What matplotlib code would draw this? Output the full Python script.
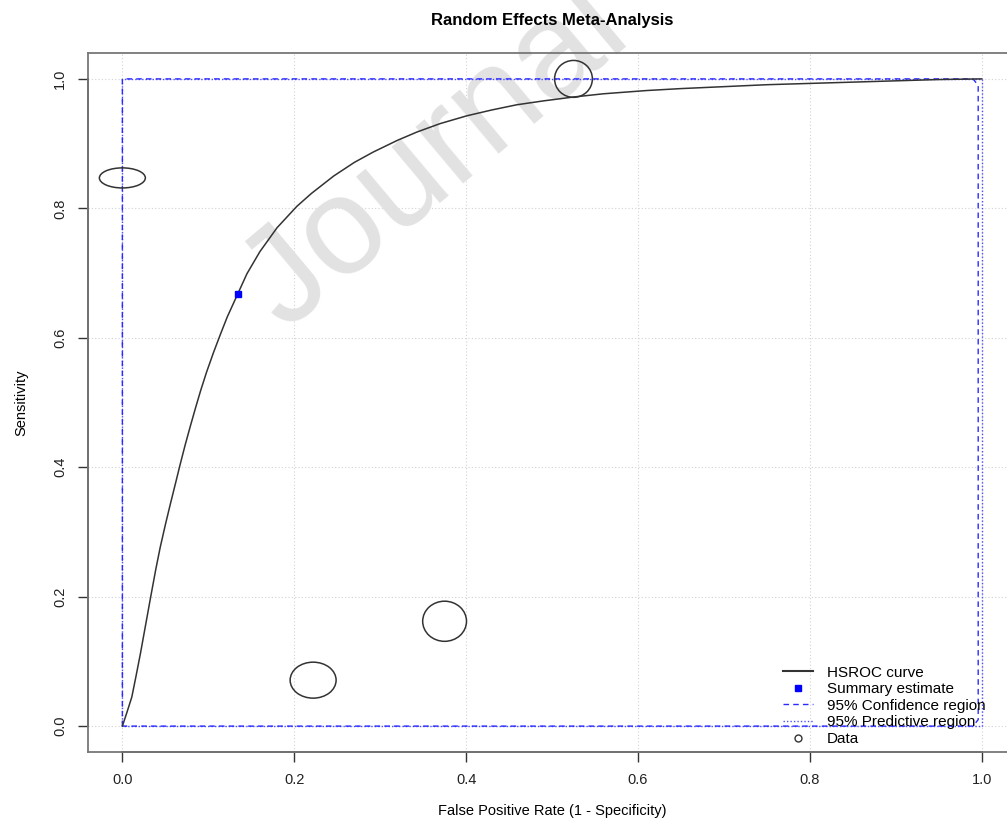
import numpy as np
import matplotlib.pyplot as plt
from matplotlib.patches import Ellipse
from matplotlib.lines import Line2D

plt.rcParams['font.family'] = ['Liberation Sans', 'DejaVu Sans']

# HSROC curve
curve_fpr = [0.0, 0.005, 0.011, 0.016, 0.021, 0.027, 0.033, 0.039, 0.044, 0.050,
             0.056, 0.062, 0.067, 0.073, 0.079, 0.085, 0.091, 0.098, 0.106, 0.114,
             0.122, 0.134, 0.145, 0.160, 0.180, 0.203, 0.220, 0.246, 0.270, 0.292,
             0.320, 0.343, 0.370, 0.401, 0.430, 0.459, 0.490, 0.525, 0.560, 0.610,
             0.650, 0.700, 0.750, 0.800, 0.850, 0.900, 0.950, 1.0]
curve_sens = [0.0, 0.020, 0.045, 0.078, 0.112, 0.156, 0.200, 0.243, 0.276, 0.311,
              0.344, 0.376, 0.403, 0.434, 0.463, 0.491, 0.518, 0.547, 0.577, 0.605,
              0.632, 0.667, 0.699, 0.733, 0.770, 0.803, 0.823, 0.850, 0.871, 0.887,
              0.905, 0.918, 0.931, 0.943, 0.952, 0.960, 0.966, 0.972, 0.977, 0.982,
              0.985, 0.988, 0.991, 0.993, 0.995, 0.997, 0.999, 1.0]

# summary estimate
summary_fpr = 0.134
summary_sens = 0.667

# study data (ellipses)
data_fpr = [0.0, 0.525, 0.222, 0.375]
data_sens = [0.847, 1.0, 0.071, 0.162]
data_w = [0.0535, 0.044, 0.0535, 0.051]
data_h = [0.031, 0.057, 0.0556, 0.062]

# regions
conf_fpr = [0.0, 0.0, 0.990, 0.996, 0.996, 0.990, 0.0]
conf_sens = [0.0, 1.0, 1.0, 0.990, 0.010, 0.0, 0.0]
pred_fpr = [0.0, 0.0, 1.0, 1.0, 0.0]
pred_sens = [0.0, 1.0, 1.0, 0.0, 0.0]

ticks = [0.0, 0.2, 0.4, 0.6, 0.8, 1.0]

fig = plt.figure(figsize=(10.07, 8.22), dpi=100)
ax = fig.add_axes([88 / 1007, 70 / 822, 928 / 1007, 699 / 822])
ax.set_xlim(-0.04, 1.04)
ax.set_ylim(-0.04, 1.04)

for t in ticks:
    ax.axvline(t, color='#d3d3d3', lw=0.8, ls=(0, (1, 2)), zorder=0.5)
    ax.axhline(t, color='#d3d3d3', lw=0.8, ls=(0, (1, 2)), zorder=0.5)

# watermark
ax.text(0.19, 0.61, 'Journal', fontsize=100, rotation=40,
        rotation_mode='anchor', ha='left', va='baseline', color='#e2e2e2',
        clip_on=False, zorder=0.6)

ax.plot(pred_fpr, pred_sens, color='#4d4dff', lw=1.0, ls=(0, (1, 1.5)), zorder=2)
ax.plot(conf_fpr, conf_sens, color='#2a2aff', lw=1.0, ls=(0, (4, 3)), zorder=2)
ax.plot(curve_fpr, curve_sens, color='#333333', lw=1.1, zorder=3)
ax.plot(summary_fpr, summary_sens, 's', color='blue', ms=5, zorder=4)

for x, y, w, h in zip(data_fpr, data_sens, data_w, data_h):
    ax.add_patch(Ellipse((x, y), w, h, fill=False, edgecolor='#333333', lw=1.1, zorder=3))

for s in ax.spines.values():
    s.set_color('#777777')
    s.set_linewidth(1.3)
ax.plot([-0.04, -0.04], [0, 1], color='#333333', lw=1.3, clip_on=False)
ax.plot([0, 1], [-0.04, -0.04], color='#333333', lw=1.3, clip_on=False)

ax.set_xticks(ticks)
ax.set_yticks(ticks)
ax.set_xticklabels(['%.1f' % t for t in ticks], fontsize=10.5, color='#222222')
ax.set_yticklabels(['%.1f' % t for t in ticks], fontsize=10.5, color='#222222',
                   rotation=90, va='center')
ax.tick_params(length=7, width=1, color='#333333', pad=8)

ax.set_title('Random Effects Meta-Analysis', fontsize=12, fontweight='bold', pad=20)
ax.set_xlabel('False Positive Rate (1 - Specificity)', fontsize=10.5, labelpad=12)
ax.set_ylabel('Sensitivity', fontsize=10.5, labelpad=18)

handles = [
    Line2D([], [], color='#333333', lw=1.5),
    Line2D([], [], ls='none', marker='s', color='blue', ms=5),
    Line2D([], [], color='#2a2aff', lw=1.0, ls=(0, (4, 3))),
    Line2D([], [], color='#4d4dff', lw=1.0, ls=(0, (1, 1.5))),
    Line2D([], [], ls='none', marker='o', mfc='none', mec='#333333', ms=5),
]
labels = ['HSROC curve', 'Summary estimate', '95% Confidence region',
          '95% Predictive region', 'Data']
fig.legend(handles, labels, loc='upper left', bbox_to_anchor=(775 / 1007, 1 - 658 / 822),
           frameon=False, fontsize=11, handlelength=2.0, labelspacing=0.17,
           handletextpad=0.9, borderpad=0)

fig.savefig('out.png', dpi=100)
